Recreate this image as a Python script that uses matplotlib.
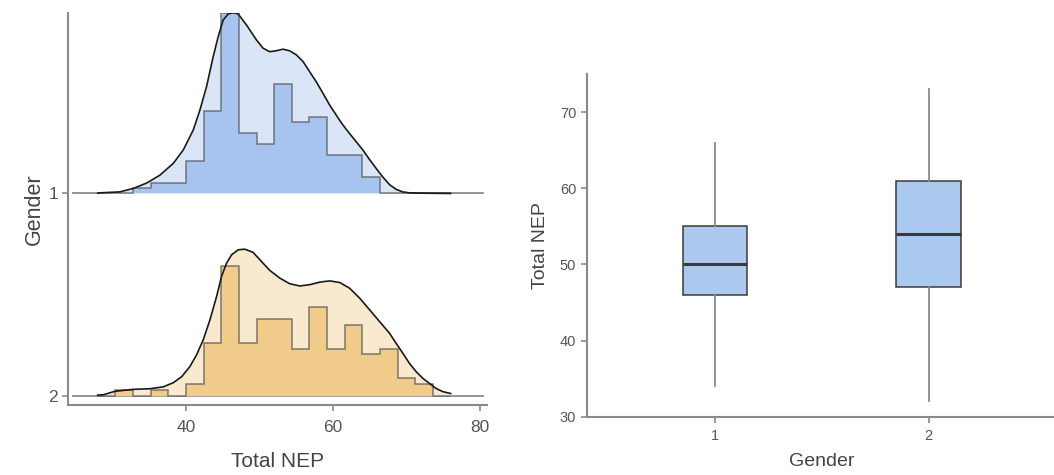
import numpy as np
import matplotlib
matplotlib.use("Agg")
import matplotlib.pyplot as plt

plt.rcParams["font.family"] = ["Liberation Sans", "DejaVu Sans"]

# histogram bins of Total NEP (width 2.4, from 28 to 76)
bin_edges = [28.0, 30.4, 32.8, 35.2, 37.6, 40.0, 42.4, 44.8, 47.2, 49.6, 52.0,
             54.4, 56.8, 59.2, 61.6, 64.0, 66.4, 68.8, 71.2, 73.6, 76.0]
counts_1 = [0, 0, 1, 2, 2, 6, 15, 33, 11, 9, 20, 13, 14, 7, 7, 3, 0, 0, 0, 0]
counts_2 = [0, 1, 0, 1, 0, 2, 9, 22, 9, 13, 13, 8, 15, 8, 12, 7, 8, 3, 2, 0]

# density curves
kde_x_1 = [28.0, 28.3, 31.0, 32.85, 34.67, 36.47, 38.28, 39.63, 40.99, 41.9,
           42.8, 43.7, 44.38, 45.06, 45.74, 46.42, 47.1, 48.24, 49.59, 50.49,
           51.4, 52.3, 53.2, 54.1, 55.02, 55.92, 56.82, 57.73, 58.63, 59.54,
           60.44, 61.34, 62.25, 63.16, 64.06, 64.97, 65.87, 66.77, 67.68, 68.59,
           69.49, 70.39, 72.0, 76.0]
kde_y_1 = [0.0001, 0.0002, 0.0005, 0.0016, 0.0033, 0.0058, 0.0095, 0.0137, 0.0200, 0.0263,
           0.0337, 0.0431, 0.0494, 0.0547, 0.0566, 0.0570, 0.0566, 0.0531, 0.0484, 0.0458,
           0.0447, 0.0450, 0.0455, 0.0450, 0.0437, 0.0416, 0.0384, 0.0352, 0.0316, 0.0279,
           0.0247, 0.0216, 0.0189, 0.0163, 0.0137, 0.0107, 0.0079, 0.0052, 0.0028, 0.0013,
           0.0005, 0.0002, 0.0001, 0.0]
kde_x_2 = [28.0, 28.78, 29.5, 30.37, 32.85, 35.12, 36.92, 38.28, 39.42, 40.54,
           41.45, 42.35, 43.26, 44.17, 44.84, 45.52, 46.2, 47.1, 48.0, 49.13,
           50.04, 51.4, 52.75, 54.11, 55.47, 56.82, 58.18, 59.54, 60.9, 62.25,
           63.61, 64.97, 66.32, 67.68, 68.59, 69.49, 70.39, 71.3, 72.2, 73.1,
           74.0, 74.9, 75.8, 76.0]
kde_y_2 = [0.0002, 0.0003, 0.0008, 0.0014, 0.0020, 0.0022, 0.0028, 0.0041, 0.0060, 0.0092,
           0.0129, 0.0176, 0.0239, 0.0313, 0.0376, 0.0418, 0.0444, 0.0460, 0.0462, 0.0452,
           0.0429, 0.0395, 0.0371, 0.0353, 0.0346, 0.0350, 0.0358, 0.0362, 0.0357, 0.0339,
           0.0308, 0.0271, 0.0234, 0.0197, 0.0165, 0.0134, 0.0102, 0.0076, 0.0055, 0.0039,
           0.0023, 0.0013, 0.0008, 0.0007]

# box plot summary per gender
genders = ["1", "2"]
box_q1 = [46, 47]
box_med = [50, 54]
box_q3 = [55, 61]
box_lo = [34, 32]
box_hi = [66, 73]

GREY = "#8a8a8a"
TXT = "#555555"


def style_axis(ax):
    for side in ["top", "right"]:
        ax.spines[side].set_visible(False)
    for side in ["left", "bottom"]:
        ax.spines[side].set_color(GREY)
        ax.spines[side].set_linewidth(1.5)
    ax.tick_params(color=GREY, length=4, width=1.2, labelcolor=TXT)


fig = plt.figure(figsize=(10.54, 4.75), dpi=100)

# ---- ridge plot ----
ax1 = fig.add_axes([68.3 / 1054, 70 / 475, 418.4 / 1054, 392.3 / 475])
edges = np.array(bin_edges)
dens_1 = np.array(counts_1) / (sum(counts_1) * np.diff(edges))
dens_2 = np.array(counts_2) / (sum(counts_2) * np.diff(edges))
ridge_h = 0.894
hist_scale = ridge_h / max(dens_1.max(), dens_2.max())
kde_scale = ridge_h / max(max(kde_y_1), max(kde_y_2))

ridges = [
    (1, dens_1, kde_x_1, kde_y_1, "#a6c4ef", "#dae6f7"),
    (0, dens_2, kde_x_2, kde_y_2, "#f0cb89", "#f8e9cf"),
]
for base, dens, kx, ky, hist_col, kde_col in ridges:
    ax1.axhline(base, xmin=0.012, xmax=0.99, color=GREY, lw=1.3, zorder=1)
    ky = base + np.array(ky) * kde_scale
    ax1.fill_between(kx, base, ky, color=kde_col, lw=0, zorder=2)
    ax1.stairs(base + dens * hist_scale, edges, baseline=base, fill=True,
               color=hist_col, lw=0, zorder=3)
    ax1.stairs(base + dens * hist_scale, edges, baseline=base, fill=False,
               color="#555555", alpha=0.75, lw=1.1, zorder=4)
    ax1.plot(kx, ky, color="#1a1a1a", lw=1.2, zorder=5)

ax1.set_xlim(24.0, 80.9)
ax1.set_ylim(-0.046, 1 + ridge_h)
ax1.set_xticks([40, 60, 80])
ax1.set_yticks([0, 1])
ax1.set_yticklabels(["2", "1"])
style_axis(ax1)
ax1.tick_params(labelsize=12.5)
ax1.tick_params(axis="x", pad=7)
ax1.set_xlabel("Total NEP", fontsize=15, color="#444444", labelpad=12)
ax1.set_ylabel("Gender", fontsize=15.5, color="#444444", labelpad=2)

# ---- box plot ----
ax2 = fig.add_axes([586.7 / 1054, 58.3 / 475, 470 / 1054, 342.7 / 475])
stats = []
for i in range(len(genders)):
    stats.append({"med": box_med[i], "q1": box_q1[i], "q3": box_q3[i],
                  "whislo": box_lo[i], "whishi": box_hi[i], "fliers": [],
                  "label": genders[i]})
ax2.bxp(stats, positions=[1, 2], widths=0.3, showcaps=False, patch_artist=True,
        boxprops=dict(facecolor="#abc8ef", edgecolor="#3a3a3a", lw=1.1),
        medianprops=dict(color="#3a3a3a", lw=2.2),
        whiskerprops=dict(color=GREY, lw=1.3))
ax2.set_xlim(0.4, 2.6)
ax2.set_ylim(30, 75)
ax2.set_yticks([30, 40, 50, 60, 70])
style_axis(ax2)
ax2.tick_params(labelsize=10.5)
ax2.tick_params(axis="x", pad=5)
ax2.set_xlabel("Gender", fontsize=14, color="#444444", labelpad=7)
ax2.set_ylabel("Total NEP", fontsize=14, color="#444444", labelpad=8)

fig.savefig("out.png", dpi=100)
